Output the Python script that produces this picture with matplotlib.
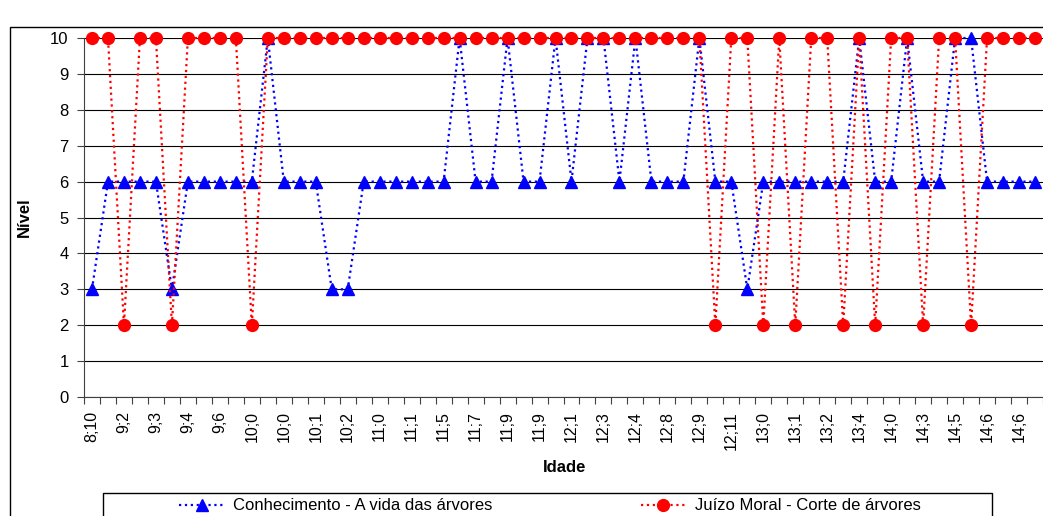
import numpy as np
import matplotlib
matplotlib.use('Agg')
import matplotlib.pyplot as plt
from matplotlib.patches import Rectangle

plt.rcParams['font.family'] = ['Liberation Sans', 'DejaVu Sans']

# idades (só de duas em duas categorias aparece rótulo, como no Excel)
idade_rotulos = ['8;10', '9;2', '9;3', '9;4', '9;6', '10;0', '10;0', '10;1', '10;2', '11;0',
                 '11;1', '11;5', '11;7', '11;9', '11;9', '12;1', '12;3', '12;4', '12;8', '12;9',
                 '12;11', '13;0', '13;1', '13;2', '13;4', '14;0', '14;3', '14;5', '14;6', '14;6']

conhecimento = [3, 6, 6, 6, 6, 3, 6, 6, 6, 6,
                6, 10, 6, 6, 6, 3, 3, 6, 6, 6,
                6, 6, 6, 10, 6, 6, 10, 6, 6, 10,
                6, 10, 10, 6, 10, 6, 6, 6, 10, 6,
                6, 3, 6, 6, 6, 6, 6, 6, 10, 6,
                6, 10, 6, 6, 10, 10, 6, 6, 6, 6]

juizo = [10, 10, 2, 10, 10, 2, 10, 10, 10, 10,
         2, 10, 10, 10, 10, 10, 10, 10, 10, 10,
         10, 10, 10, 10, 10, 10, 10, 10, 10, 10,
         10, 10, 10, 10, 10, 10, 10, 10, 10, 2,
         10, 10, 2, 10, 2, 10, 10, 2, 10, 2,
         10, 10, 2, 10, 10, 2, 10, 10, 10, 10]

W, H = 1043, 516
fig = plt.figure(figsize=(W / 100, H / 100), dpi=100)
ax = fig.add_axes([84 / W, 1 - 397 / H, (1043 - 84) / W, (397 - 38) / H])

x = np.arange(len(conhecimento))
ax.plot(x, conhecimento, color='#0000FF', linestyle=':', linewidth=1.6,
        marker='^', markersize=8.5, label='Conhecimento - A vida das árvores', clip_on=False, zorder=3)
ax.plot(x, juizo, color='#FF0000', linestyle=':', linewidth=1.6,
        marker='o', markersize=8.5, label='Juízo Moral - Corte de árvores', clip_on=False, zorder=4)

ax.set_xlim(-0.5, len(x) - 0.5)
ax.set_ylim(0, 10)
ax.set_yticks(range(0, 11))
ax.yaxis.grid(True, color='black', linewidth=0.8)
ax.set_axisbelow(True)

# marcas entre categorias, rótulos em categorias pares
ax.set_xticks(np.arange(-0.5, len(x), 1.0))
ax.set_xticklabels([])
ax.set_xticks(np.arange(0, len(x), 2), minor=True)
ax.set_xticklabels(idade_rotulos, minor=True, rotation=90, fontsize=11.5)
ax.tick_params(axis='x', which='major', direction='out', length=5, color='#404040')
ax.tick_params(axis='x', which='minor', length=0, pad=10)
ax.tick_params(axis='y', direction='out', length=5, labelsize=12, pad=6, color='#404040')

for s in ['top', 'right']:
    ax.spines[s].set_visible(False)
for s in ['left', 'bottom']:
    ax.spines[s].set_color('#404040')

ax.set_ylabel('Nível', fontweight='bold', fontsize=12)
ax.yaxis.set_label_coords((32 - 84) / 959, 0.5)
fig.text(565 / W, 1 - 468 / H, 'Idade', fontweight='bold', fontsize=12, ha='center', va='center')

# moldura do gráfico (cortada pela imagem)
fig.patches.append(Rectangle((10 / W, -0.1), 1.2, 1.1 - 26.5 / H, transform=fig.transFigure,
                             fill=False, edgecolor='black', linewidth=1.0))
# moldura da legenda
fig.patches.append(Rectangle((103 / W, -0.1), (992 - 103) / W, 0.1 + 1 - 493 / H, transform=fig.transFigure,
                             fill=False, edgecolor='black', linewidth=1.0))

leg = fig.legend(loc='center', bbox_to_anchor=(550 / W, 1 - 506 / H),
                 ncol=2, frameon=False, fontsize=12,
                 handlelength=2.7, handletextpad=0.55, columnspacing=8.9, numpoints=1,
                 borderaxespad=0, borderpad=0)

fig.savefig('out.png', dpi=100)
